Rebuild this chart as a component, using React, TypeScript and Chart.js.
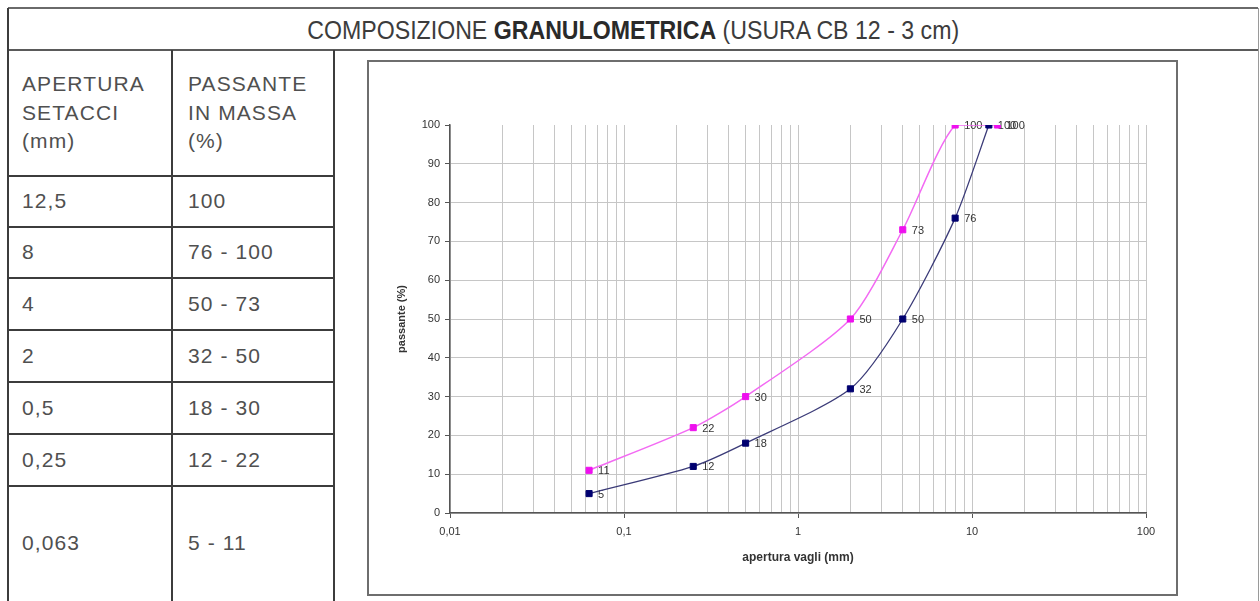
import React, { useEffect, useRef } from 'react';
import { Chart, registerables } from 'chart.js';

Chart.register(...registerables);

// ---- data ----
const titleLeft = 'COMPOSIZIONE ';
const titleBold = 'GRANULOMETRICA';
const titleRight = ' (USURA CB 12 - 3 cm)';
const headerCol1 = ['APERTURA', 'SETACCI', '(mm)'];
const headerCol2 = ['PASSANTE', 'IN MASSA', '(%)'];
const sieveSizes = ['12,5', '8', '4', '2', '0,5', '0,25', '0,063'];
const passingRanges = ['100', '76 - 100', '50 - 73', '32 - 50', '18 - 30', '12 - 22', '5 - 11'];

const lowerX = [0.063, 0.25, 0.5, 2, 4, 8, 12.5];
const lowerY = [5, 12, 18, 32, 50, 76, 100];
const upperX = [0.063, 0.25, 0.5, 2, 4, 8, 14];
const upperY = [11, 22, 30, 50, 73, 100, 100];

const xMajorTicks = [0.01, 0.1, 1, 10, 100];
const xTickLabels = ['0,01', '0,1', '1', '10', '100'];
const yTickValues = [0, 10, 20, 30, 40, 50, 60, 70, 80, 90, 100];

const xTitle = 'apertura vagli (mm)';
const yTitle = 'passante (%)';

// ---- helpers ----
const xAllTicks: number[] = [];
xMajorTicks.forEach((m, i) => {
  if (i < xMajorTicks.length - 1) {
    for (let k = 1; k <= 9; k++) xAllTicks.push(parseFloat((m * k).toPrecision(6)));
  } else {
    xAllTicks.push(m);
  }
});
const majorIndex = (v: number) => xMajorTicks.findIndex((m) => Math.abs(v - m) / m < 1e-6);

const FONT = '"Liberation Sans", Arial, Helvetica, sans-serif';
const TRANSPARENT = 'rgba(0,0,0,0)';
const GRID = '#c6c6c6';
const AXIS = '#555555';

const labelPlugin = {
  id: 'pointValueLabels',
  beforeDatasetsDraw(chart: any) {
    const ctx = chart.ctx;
    ctx.save();
    ctx.font = '11px ' + FONT;
    ctx.fillStyle = '#333333';
    ctx.textBaseline = 'middle';
    ctx.textAlign = 'left';
    chart.data.datasets.forEach((ds: any, i: number) => {
      const meta = chart.getDatasetMeta(i);
      meta.data.forEach((pt: any, j: number) => {
        ctx.fillText(String(ds.data[j].y), pt.x + 9, pt.y + 1);
      });
    });
    ctx.restore();
  },
};

function GranChart() {
  const ref = useRef<HTMLCanvasElement | null>(null);
  useEffect(() => {
    if (!ref.current) return;
    const chart = new Chart(ref.current, {
      type: 'line',
      data: {
        datasets: [
          {
            label: 'min',
            data: lowerX.map((x, i) => ({ x, y: lowerY[i] })),
            borderColor: '#3b3b78',
            borderWidth: 1.3,
            backgroundColor: '#000070',
            pointBackgroundColor: '#000070',
            pointBorderColor: '#000070',
            pointBorderWidth: 1,
            pointStyle: 'rect',
            pointRadius: 4.3,
            tension: 0.25,
            fill: false,
          },
          {
            label: 'max',
            data: upperX.map((x, i) => ({ x, y: upperY[i] })),
            borderColor: '#f36af3',
            borderWidth: 1.5,
            backgroundColor: '#ee10ee',
            pointBackgroundColor: '#ee10ee',
            pointBorderColor: '#ee10ee',
            pointBorderWidth: 1,
            pointStyle: 'rect',
            pointRadius: 4.3,
            tension: 0.25,
            fill: false,
          },
        ],
      },
      options: {
        animation: false,
        responsive: false,
        maintainAspectRatio: false,
        layout: { padding: { top: 64, right: 31, bottom: 0, left: 0 } },
        plugins: { legend: { display: false }, tooltip: { enabled: false } },
        scales: {
          x: {
            type: 'logarithmic',
            min: 0.01,
            max: 100,
            afterBuildTicks: (scale: any) => {
              scale.ticks = xAllTicks.map((v) => ({ value: v }));
            },
            afterFit: (scale: any) => {
              scale.height = 82;
            },
            ticks: {
              autoSkip: false,
              maxRotation: 0,
              minRotation: 0,
              padding: 7,
              color: '#333333',
              font: { family: FONT, size: 11 },
              callback: (value: any) => {
                const idx = majorIndex(Number(value));
                return idx >= 0 ? xTickLabels[idx] : '';
              },
            },
            grid: {
              color: GRID,
              lineWidth: 1,
              tickLength: 5,
              tickColor: (ctx: any) =>
                ctx.tick && majorIndex(ctx.tick.value) >= 0 ? AXIS : TRANSPARENT,
            },
            border: { display: true, color: AXIS, width: 1.5 },
            title: {
              display: true,
              text: xTitle,
              color: '#333333',
              font: { family: FONT, size: 12, weight: 'bold' },
              padding: { top: 0, bottom: 30 },
            },
          },
          y: {
            type: 'linear',
            min: 0,
            max: 100,
            afterBuildTicks: (scale: any) => {
              scale.ticks = yTickValues.map((v) => ({ value: v }));
            },
            afterFit: (scale: any) => {
              scale.width = 82;
            },
            ticks: {
              padding: 5,
              color: '#333333',
              font: { family: FONT, size: 11 },
            },
            grid: {
              color: (ctx: any) => (ctx.tick && ctx.tick.value === 100 ? TRANSPARENT : GRID),
              lineWidth: 1,
              tickLength: 5,
              tickColor: AXIS,
            },
            border: { display: true, color: AXIS, width: 1.5 },
            title: {
              display: true,
              text: yTitle,
              color: '#333333',
              font: { family: FONT, size: 11, weight: 'bold' },
              padding: { top: 27, bottom: 0 },
            },
          },
        },
      },
      plugins: [labelPlugin],
    } as any);
    return () => chart.destroy();
  }, []);
  return (
    <canvas
      ref={ref}
      width={809}
      height={534}
      style={{ position: 'absolute', left: 368, top: 61, width: 809, height: 534 }}
    />
  );
}

const LINE = '#3c3c3c';
const TEXT = '#505050';

function HLine({ x1, x2, y, w = 1.5, c = LINE }: any) {
  return <div style={{ position: 'absolute', left: x1, top: y - w / 2, width: x2 - x1, height: w, background: c }} />;
}
function VLine({ x, y1, y2, w = 1.5, c = LINE }: any) {
  return <div style={{ position: 'absolute', left: x - w / 2, top: y1, width: w, height: y2 - y1, background: c }} />;
}

const rowLines = [176, 227, 278, 330, 382, 434, 486, 640];

export default function App() {
  const cellText: React.CSSProperties = {
    position: 'absolute',
    fontFamily: FONT,
    fontSize: 21,
    color: TEXT,
    letterSpacing: 1.1,
    whiteSpace: 'nowrap',
    lineHeight: '28.5px',
  };
  return (
    <div
      style={{
        position: 'absolute',
        left: 0,
        top: 0,
        width: 1260,
        height: 601,
        overflow: 'hidden',
        background: '#ffffff',
      }}
    >
      {/* title */}
      <div
        style={{
          position: 'absolute',
          left: 8,
          top: 8,
          width: 1250,
          height: 44,
          display: 'flex',
          alignItems: 'center',
          justifyContent: 'center',
        }}
      >
        <span
          style={{
            display: 'inline-block',
            fontFamily: FONT,
            fontSize: 26,
            color: '#3c3c3c',
            whiteSpace: 'pre',
            transform: 'scaleX(0.89)',
          }}
        >
          {titleLeft}
          <b style={{ color: '#2a2a2a' }}>{titleBold}</b>
          {titleRight}
        </span>
      </div>

      {/* borders */}
      <HLine x1={8} x2={1258} y={8} w={2} c="#6a6a6a" />
      <HLine x1={8} x2={1258} y={50} w={2} c="#5a5a5a" />
      <VLine x={8} y1={8} y2={601} />
      <VLine x={1258} y1={8} y2={601} w={1} c="#9a9a9a" />
      <VLine x={172} y1={50} y2={601} />
      <VLine x={334} y1={50} y2={601} />
      {rowLines.slice(0, 7).map((y) => (
        <HLine key={y} x1={8} x2={334} y={y} />
      ))}

      {/* header */}
      <div style={{ ...cellText, left: 22, top: 70 }}>
        {headerCol1.map((t) => (
          <div key={t}>{t}</div>
        ))}
      </div>
      <div style={{ ...cellText, left: 188, top: 70 }}>
        {headerCol2.map((t) => (
          <div key={t}>{t}</div>
        ))}
      </div>

      {/* rows */}
      {sieveSizes.map((s, i) => {
        const top = rowLines[i];
        const bottom = i === sieveSizes.length - 1 ? 601 : rowLines[i + 1];
        const h = bottom - top;
        return (
          <React.Fragment key={s}>
            <div style={{ ...cellText, left: 22, top, height: h, display: 'flex', alignItems: 'center' }}>{s}</div>
            <div style={{ ...cellText, left: 188, top, height: h, display: 'flex', alignItems: 'center' }}>
              {passingRanges[i]}
            </div>
          </React.Fragment>
        );
      })}

      {/* chart box */}
      <div
        style={{
          position: 'absolute',
          left: 367,
          top: 60,
          width: 811,
          height: 536,
          boxSizing: 'border-box',
          border: '2px solid #6e6e6e',
          background: '#ffffff',
        }}
      />
      <GranChart />
    </div>
  );
}
